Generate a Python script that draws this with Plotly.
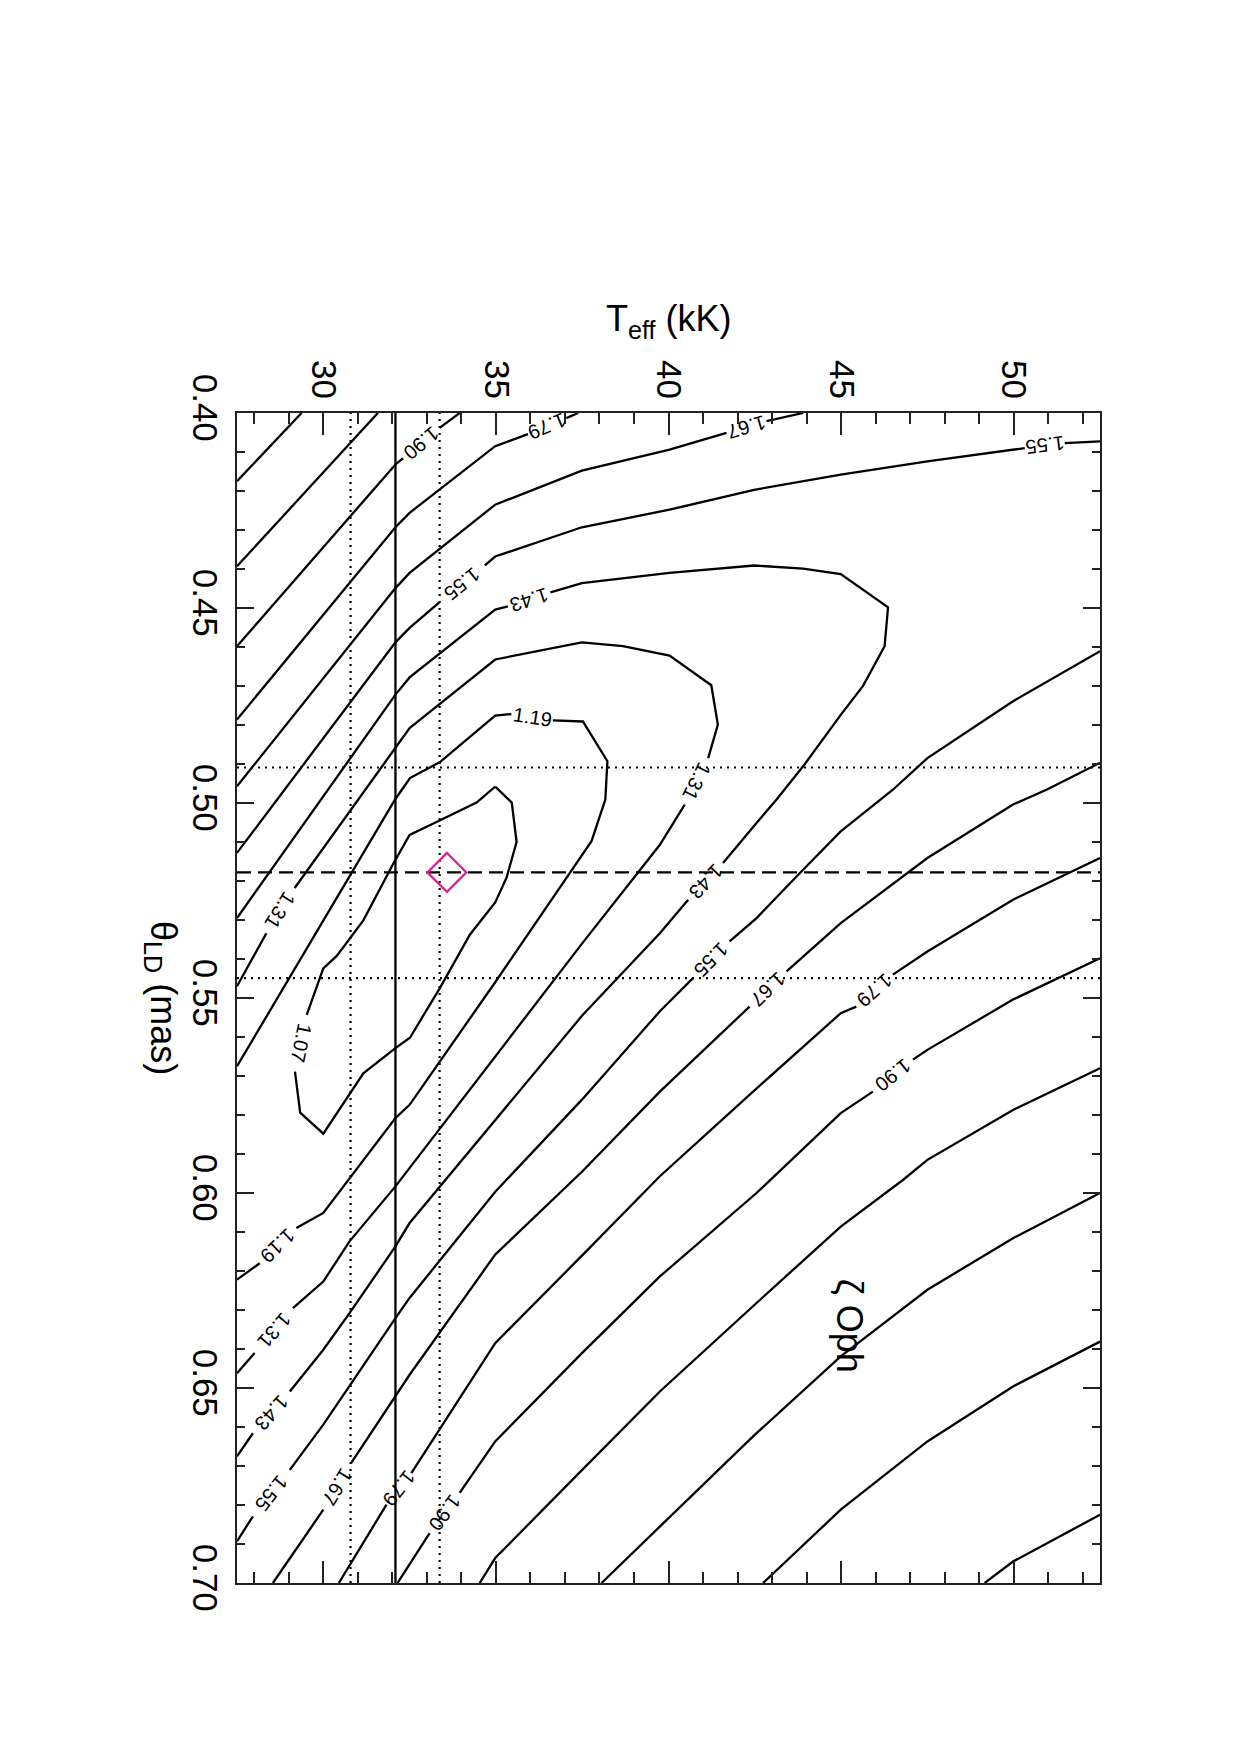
import math
import plotly.graph_objects as go

FONT = "Liberation Sans, Arial, Helvetica, sans-serif"

# ---------------- axes ----------------
T_RANGE = [27.5, 52.5]          # T_eff (kK)
TH_RANGE = [0.70, 0.40]         # theta_LD (mas), reversed (0.40 at top)

# ---------------- reference lines / best fit ----------------
T_BEST = 32.09
T_BOUNDS = [30.79, 33.37]
TH_BEST = 0.5178
TH_BOUNDS = [0.4909, 0.5449]
GRID_MIN_T = [33.58]
GRID_MIN_TH = [0.5178]

# ---------------- contour lines (None = gap where the label sits) ----------------
c107_T = [34.98, 35.46, 35.6, 35.31, 34.98, 34.25, 33.38, 32.51, 32.08, 31.16, 30.0, 29.33, 29.18, None,
          29.52, 30.0, 30.39, 31.16, 32.03, 32.5, 33.37, 34.44, 34.98]
c107_th = [0.4958, 0.4999, 0.5100, 0.5191, 0.5255, 0.5337, 0.5474, 0.5602, 0.5629, 0.5693, 0.5848, 0.5794, 0.5689, None,
           0.5543, 0.5424, 0.5392, 0.5301, 0.5155, 0.5082, 0.5045, 0.4999, 0.4958]

c119_T = [27.5, 30.0, 32.08, 32.51, 33.38, 34.98, 35.45, None, 36.65, 37.52, 38.23, 38.17, 37.77, 37.14,
          35.0, 32.5, 32.09, 30.0, 29.22, None, 28.16, 27.5]
c119_th = [0.5675, 0.5302, 0.4991, 0.4936, 0.4895, 0.4776, 0.4772, None, 0.4788, 0.4791, 0.4893, 0.4991, 0.5098, 0.5180,
           0.5457, 0.5774, 0.5808, 0.6051, 0.6090, None, 0.6180, 0.6222]

c131_T = [27.5, 28.35, None, 29.17, 30.0, 32.09, 32.5, 34.98, 37.49, 38.68, 40.03, 41.24, 41.43, 41.15, None,
          40.47, 39.75, 37.5, 35.0, 32.5, 32.09, 30.76, 30.0, 29.12, None, 28.01, 27.5]
c131_th = [0.547, 0.5334, None, 0.5218, 0.5116, 0.4859, 0.4808, 0.4632, 0.4588, 0.4598, 0.4622, 0.4698, 0.4799, 0.4885, None,
           0.5004, 0.5107, 0.5360, 0.5648, 0.5936, 0.5983, 0.6124, 0.6227, 0.6295, None, 0.6410, 0.6462]

c143_T = [27.5, 30.0, 32.09, 32.5, 34.98, 35.35, None, 36.58, 37.49, 40.03, 42.48, 43.9, 44.99, 46.36, 46.26,
          45.64, 44.99, 43.9, 43.13, 42.55, 41.58, None, 40.57, 39.75, 37.5, 35.0, 32.5, 32.09, 30.76, 30.0,
          29.03, None, 27.96, 27.5]
c143_th = [0.5295, 0.4983, 0.4722, 0.4678, 0.4504, 0.4496, None, 0.4460, 0.4436, 0.4410, 0.4391, 0.4399, 0.4413,
           0.4498, 0.4598, 0.4699, 0.4774, 0.4906, 0.4991, 0.5051, 0.5154, None, 0.5248, 0.5334, 0.5545, 0.5811,
           0.6077, 0.6137, 0.6308, 0.6402, 0.6509, None, 0.6616, 0.6675]

c155a_T = [27.5, 30.0, 32.09, 32.5, 33.37, None, 34.68, 34.98, 37.49, 40.03, 42.48, 44.99, 47.5, 49.98, 50.32,
           None, 51.48, 52.5]
c155a_th = [0.5128, 0.4834, 0.4588, 0.4551, 0.4485, None, 0.4391, 0.4368, 0.4293, 0.4248, 0.4197, 0.4158, 0.4124,
            0.4094, 0.4090, None, 0.4077, 0.4073]

c155b_T = [27.5, 27.96, None, 29.03, 30.0, 32.09, 32.5, 35.0, 37.5, 39.75, 40.71, None, 41.77, 42.55, 43.8,
           44.99, 46.5, 47.5, 49.98, 52.5]
c155b_th = [0.6893, 0.6829, None, 0.6710, 0.6594, 0.6321, 0.6269, 0.5995, 0.576, 0.5534, 0.5449, None, 0.5355,
            0.5295, 0.5180, 0.5073, 0.4966, 0.4885, 0.4739, 0.4611]

c167a_T = [27.5, 30.0, 32.09, 32.5, 34.98, 37.49, 40.03, 41.68, None, 42.84, 43.90]
c167a_th = [0.4957, 0.4680, 0.4449, 0.4410, 0.4235, 0.4148, 0.4094, 0.4051, None, 0.4021, 0.40]

c167b_T = [28.54, 30.0, None, 30.8, 32.09, 32.5, 34.98, 37.5, 39.75, 42.35, None, 43.42, 44.99, 47.5, 49.98,
           50.95, 52.5]
c167b_th = [0.70, 0.6812, None, 0.6693, 0.6522, 0.6466, 0.6158, 0.5945, 0.5740, 0.5522, None, 0.5432, 0.5308,
            0.5141, 0.5004, 0.4966, 0.4897]

c179a_T = [27.5, 30.0, 32.09, 32.5, 34.98, 35.93, None, 37.04, 37.38]
c179a_th = [0.4786, 0.4517, 0.4293, 0.4256, 0.4085, 0.4054, None, 0.4013, 0.40]

c179b_T = [30.45, 31.83, None, 32.55, 34.98, 37.5, 39.75, 42.45, 44.99, 45.44, None, 46.5, 47.5, 49.98, 52.5]
c179b_th = [0.70, 0.6799, None, 0.6718, 0.6385, 0.616, 0.5957, 0.5740, 0.5539, 0.5522, None, 0.5440, 0.5381,
            0.5248, 0.5141]

c190a_T = [27.5, 30.0, 32.09, 32.31, None, 33.37, 33.95]
c190a_th = [0.4598, 0.4344, 0.4132, 0.4116, None, 0.4038, 0.40]

c190b_T = [32.15, 33.08, None, 33.95, 34.98, 37.5, 39.75, 42.55, 44.99, 45.92, None, 47.08, 47.5, 49.98, 52.5]
c190b_th = [0.70, 0.6872, None, 0.6769, 0.6637, 0.641, 0.6214, 0.60, 0.5795, 0.5740, None, 0.5658, 0.5633,
            0.5504, 0.5398]

c202a_T = [27.5, 30.0, 31.58]
c202a_th = [0.4393, 0.4152, 0.40]
c202b_T = [34.53, 34.98, 37.5, 39.75, 42.55, 44.99, 46.8, 47.5, 49.98, 52.5]
c202b_th = [0.70, 0.6936, 0.671, 0.6509, 0.6282, 0.6086, 0.5966, 0.5915, 0.5787, 0.5680]

c214a_T = [27.5, 29.37]
c214a_th = [0.4175, 0.40]
c214b_T = [38.06, 39.75, 42.45, 44.99, 47.5, 49.98, 52.5]
c214b_th = [0.70, 0.6855, 0.6624, 0.6419, 0.6248, 0.6116, 0.6000]

c226_T = [42.74, 44.99, 47.5, 49.98, 52.5]
c226_th = [0.70, 0.6812, 0.6637, 0.6496, 0.6381]

c238_T = [49.16, 49.98, 52.5]
c238_th = [0.70, 0.6945, 0.6825]

CONTOURS = [
    ("1.07", c107_T, c107_th), ("1.19", c119_T, c119_th), ("1.31", c131_T, c131_th),
    ("1.43", c143_T, c143_th), ("1.55", c155a_T, c155a_th), ("1.55", c155b_T, c155b_th),
    ("1.67", c167a_T, c167a_th), ("1.67", c167b_T, c167b_th), ("1.79", c179a_T, c179a_th),
    ("1.79", c179b_T, c179b_th), ("1.90", c190a_T, c190a_th), ("1.90", c190b_T, c190b_th),
    ("2.02", c202a_T, c202a_th), ("2.02", c202b_T, c202b_th), ("2.14", c214a_T, c214a_th),
    ("2.14", c214b_T, c214b_th), ("2.26", c226_T, c226_th), ("2.38", c238_T, c238_th),
]

STAR_NAME = "ζ Oph"
STAR_POS = (45.25, 0.634)

# ---------------- figure geometry ----------------
W, H = 1240, 1755
M_L, M_R, M_T, M_B = 237, 140, 413, 172
PX_T = (W - M_L - M_R) / (T_RANGE[1] - T_RANGE[0])
PX_TH = (H - M_T - M_B) / (TH_RANGE[0] - TH_RANGE[1])

fig = go.Figure()
annotations = []

for level, Ts, ths in CONTOURS:
    fig.add_trace(go.Scatter(x=Ts, y=ths, mode="lines", line=dict(color="black", width=2.3),
                             hoverinfo="skip", showlegend=False, connectgaps=False))
    for i, v in enumerate(Ts):
        if v is None:
            t1, h1, t2, h2 = Ts[i - 1], ths[i - 1], Ts[i + 1], ths[i + 1]
            dx = (t2 - t1) * PX_T
            dy = (h2 - h1) * PX_TH
            ang = math.degrees(math.atan2(dy, dx)) % 180.0
            annotations.append(dict(x=(t1 + t2) / 2, y=(h1 + h2) / 2, xref="x", yref="y", text=level,
                                    showarrow=False, textangle=ang, xanchor="center", yanchor="middle",
                                    font=dict(family=FONT, size=20, color="black")))

# best-fit lines
fig.add_trace(go.Scatter(x=[T_BEST, T_BEST], y=TH_RANGE, mode="lines",
                         line=dict(color="black", width=2.3), hoverinfo="skip", showlegend=False))
for tb in T_BOUNDS:
    fig.add_trace(go.Scatter(x=[tb, tb], y=TH_RANGE, mode="lines",
                             line=dict(color="black", width=2.2, dash="2px,5px"), hoverinfo="skip", showlegend=False))
fig.add_trace(go.Scatter(x=T_RANGE, y=[TH_BEST, TH_BEST], mode="lines",
                         line=dict(color="black", width=2.3, dash="14px,7px"), hoverinfo="skip", showlegend=False))
for hb in TH_BOUNDS:
    fig.add_trace(go.Scatter(x=T_RANGE, y=[hb, hb], mode="lines",
                             line=dict(color="black", width=2.2, dash="2px,5px"), hoverinfo="skip", showlegend=False))

fig.add_trace(go.Scatter(x=GRID_MIN_T, y=GRID_MIN_TH, mode="markers",
                         marker=dict(symbol="diamond-open", size=30, color="#d5288c",
                                     line=dict(color="#d5288c", width=2.3)),
                         hoverinfo="skip", showlegend=False))

annotations.append(dict(x=STAR_POS[0], y=STAR_POS[1], xref="x", yref="y", text=STAR_NAME, showarrow=False,
                        textangle=90, xanchor="center", yanchor="middle",
                        font=dict(family=FONT, size=36, color="black")))
annotations.append(dict(x=0.5, y=1.079, xref="paper", yref="paper", text="T<sub>eff</sub> (kK)",
                        showarrow=False, xanchor="center", yanchor="middle",
                        font=dict(family=FONT, size=36, color="black")))
annotations.append(dict(x=-0.088, y=0.5, xref="paper", yref="paper", text="θ<sub>LD</sub> (mas)",
                        showarrow=False, textangle=90, xanchor="center", yanchor="middle",
                        font=dict(family=FONT, size=36, color="black")))

axis_common = dict(showgrid=False, zeroline=False, showline=True, linecolor="#222", linewidth=1.5,
                   mirror="allticks", ticks="inside", tickcolor="#222", tickwidth=1.5, tickangle=90,
                   tickfont=dict(family=FONT, size=35, color="black"))

fig.update_layout(
    width=W, height=H, margin=dict(l=M_L, r=M_R, t=M_T, b=M_B),
    paper_bgcolor="white", plot_bgcolor="white", showlegend=False,
    annotations=annotations,
    xaxis=dict(range=T_RANGE, side="top", tickmode="linear", tick0=30, dtick=5, ticklen=22,
               minor=dict(tickmode="linear", tick0=0, dtick=1, ticks="inside", ticklen=11,
                          tickcolor="#222", tickwidth=1.5),
               **axis_common),
    yaxis=dict(range=TH_RANGE, tickmode="linear", tick0=0.40, dtick=0.05, tickformat=".2f", ticklen=17,
               minor=dict(tickmode="linear", tick0=0.40, dtick=0.01, ticks="inside", ticklen=8,
                          tickcolor="#222", tickwidth=1.5),
               **axis_common),
)

fig.write_html("out.html")
